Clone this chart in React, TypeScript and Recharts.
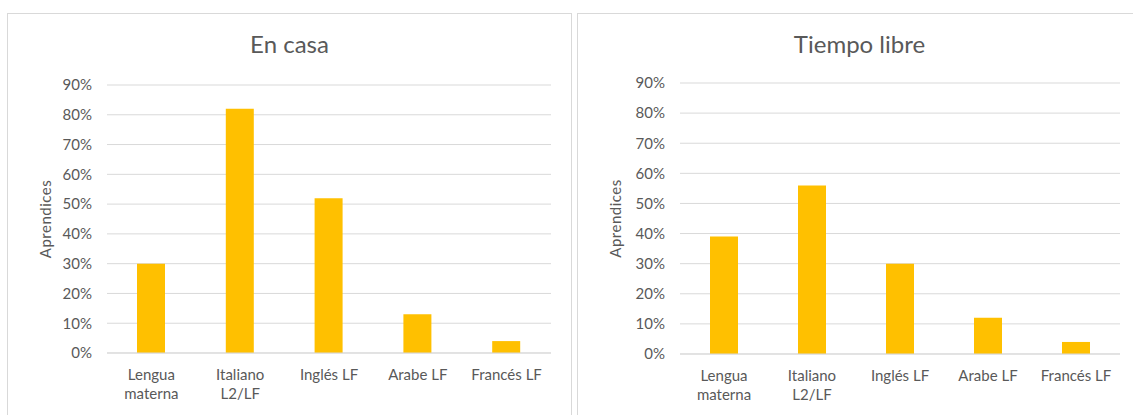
import React from 'react'
import { BarChart, Bar, XAxis, YAxis, CartesianGrid } from 'recharts'

const categoryLines = [
  ['Lengua', 'materna'],
  ['Italiano', 'L2/LF'],
  ['Inglés LF'],
  ['Arabe LF'],
  ['Francés LF'],
]
const categories = categoryLines.map(l => l.join(' '))
const enCasa = [30, 82, 52, 13, 4]
const tiempoLibre = [39, 56, 30, 12, 4]
const yTicks = [0, 10, 20, 30, 40, 50, 60, 70, 80, 90]

const FONT = 'Lato, "Open Sans", sans-serif'
const TEXT = '#595959'
const GOLD = '#FFC000'
const GRID = '#d9d9d9'

const CategoryTick = (props: any) => {
  const { x, y, payload } = props
  const idx = categories.indexOf(payload.value)
  const lines = idx >= 0 ? categoryLines[idx] : [payload.value]
  return (
    <text x={x} y={y} textAnchor="middle" fill={TEXT} fontSize={15} fontFamily={FONT}>
      {lines.map((l, i) => (
        <tspan key={i} x={x} dy={i === 0 ? 27 : 19}>
          {l}
        </tspan>
      ))}
    </text>
  )
}

const YTitle = (props: any) => {
  const { viewBox } = props
  const cx = 38
  const cy = viewBox.y + viewBox.height / 2
  return (
    <text
      x={cx}
      y={cy}
      transform={`rotate(-90 ${cx} ${cy})`}
      textAnchor="middle"
      dominantBaseline="central"
      fill={TEXT}
      fontSize={15}
      fontFamily={FONT}
      letterSpacing={0.5}
    >
      Aprendices
    </text>
  )
}

interface PanelProps {
  title: string
  values: number[]
  left: number
  margin: { top: number; right: number; left: number; bottom: number }
  xHeight: number
  yWidth: number
}

const Panel: React.FC<PanelProps> = ({ title, values, left, margin, xHeight, yWidth }) => {
  const data = categories.map((c, i) => ({ cat: c, v: values[i] }))
  return (
    <div
      style={{
        position: 'absolute',
        left,
        top: 13,
        width: 565,
        height: 420,
        border: `1px solid ${GRID}`,
        background: '#fff',
        boxSizing: 'border-box',
      }}
    >
      <div
        style={{
          position: 'absolute',
          left: 0,
          right: 0,
          top: 18,
          textAlign: 'center',
          fontFamily: FONT,
          fontSize: 24,
          lineHeight: '24px',
          color: TEXT,
        }}
      >
        {title}
      </div>
      <div style={{ position: 'absolute', left: -1, top: -1 }}>
        <BarChart width={565} height={402} data={data} margin={margin}>
          <CartesianGrid vertical={false} stroke={GRID} />
          <XAxis
            dataKey="cat"
            height={xHeight}
            tick={<CategoryTick />}
            tickLine={false}
            tickSize={0}
            tickMargin={0}
            axisLine={{ stroke: GRID }}
            interval={0}
          />
          <YAxis
            width={yWidth}
            domain={[0, 90]}
            ticks={yTicks}
            tickFormatter={(v: number) => `${v}%`}
            tick={{ fill: TEXT, fontSize: 15, fontFamily: FONT }}
            tickLine={false}
            tickSize={0}
            tickMargin={15}
            axisLine={false}
            label={<YTitle />}
          />
          <Bar dataKey="v" fill={GOLD} barSize={28} isAnimationActive={false} />
        </BarChart>
      </div>
    </div>
  )
}

export default function App() {
  return (
    <div
      style={{
        position: 'fixed',
        left: 0,
        top: 0,
        width: 1133,
        height: 415,
        overflow: 'hidden',
        background: '#fff',
      }}
    >
      <Panel
        title="En casa"
        values={enCasa}
        left={7}
        margin={{ top: 72, right: 21, left: 0, bottom: 0 }}
        xHeight={62}
        yWidth={100}
      />
      <Panel
        title="Tiempo libre"
        values={tiempoLibre}
        left={577}
        margin={{ top: 70, right: 22, left: 0, bottom: 0 }}
        xHeight={61}
        yWidth={103}
      />
    </div>
  )
}
